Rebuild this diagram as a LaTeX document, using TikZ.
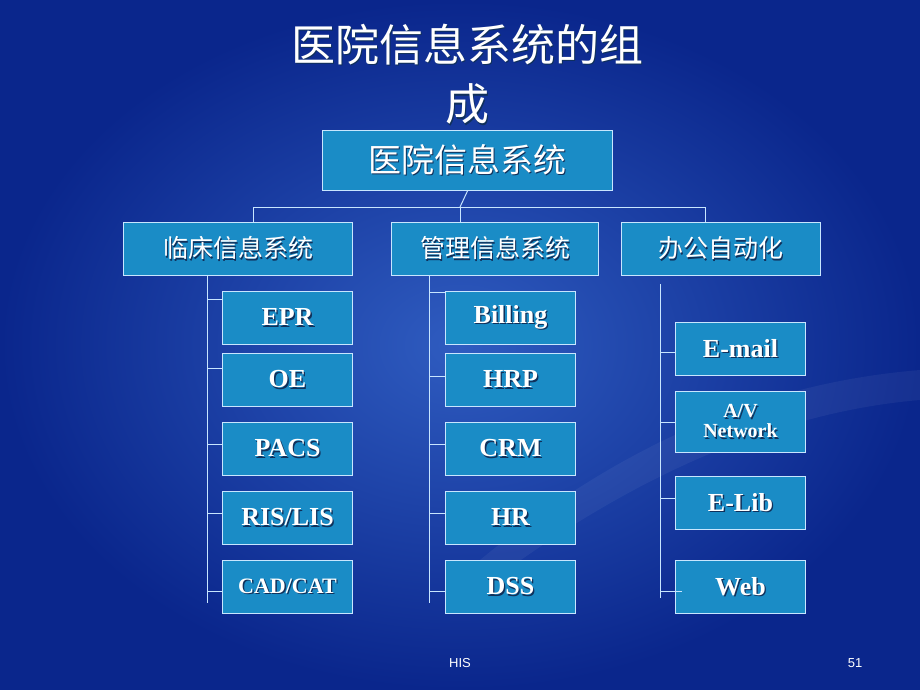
\documentclass[tikz,border=0pt]{standalone}
\usepackage{fontspec}
\setmainfont{Liberation Serif}
\newfontfamily\cjk{Noto Sans CJK SC}
\newfontfamily\sfhelv{Liberation Sans}
\definecolor{bgc}{HTML}{2F5CC0}
\definecolor{bge}{HTML}{0A268C}
\definecolor{boxf}{HTML}{1A8CC6}
\definecolor{boxd}{HTML}{C8E6FF}
\definecolor{shd}{HTML}{10305A}
\newcommand{\shtxt}[1]{\makebox[0pt][l]{\raisebox{-1.3pt}{\kern1.3pt\color{shd}#1}}#1}
\tikzset{
  bx/.style={draw=boxd, line width=1pt, fill=boxf, text=white, inner sep=0pt, anchor=north west},
  lt/.style={font=\bfseries\fontsize{26}{27}\selectfont, align=center},
  cn/.style={font=\cjk\fontsize{25}{27}\selectfont},
  ln/.style={draw=boxd, line width=1pt}
}
\begin{document}
\begin{tikzpicture}[x=1pt,y=-1pt]
\shade[inner color=bgc, outer color=bge] (0,0) rectangle (920,690);
\useasboundingbox (0,0) rectangle (920,690);
\fill[white, opacity=0.05] (480,560) .. controls (650,420) and (800,380) .. (920,370) -- (920,400) .. controls (800,410) and (650,460) .. (480,590) -- cycle;
% title
\node[text=white, font=\cjk\fontsize{44}{48}\selectfont] (t1) at (467,45) {\shtxt{医院信息系统的组}};
\node[text=white, font=\cjk\fontsize{44}{48}\selectfont] (t2) at (467,105) {\shtxt{成}};
% root
\node[bx, minimum width=290pt, minimum height=60pt, cn, font=\cjk\fontsize{33}{36}\selectfont] (root) at (322,130) {\shtxt{医院信息系统}};
\node[bx, minimum width=229pt, minimum height=53pt, cn] (c1) at (123,222) {\shtxt{临床信息系统}};
\node[bx, minimum width=207pt, minimum height=53pt, cn] (c2) at (391,222) {\shtxt{管理信息系统}};
\node[bx, minimum width=199pt, minimum height=53pt, cn] (c3) at (621,222) {\shtxt{办公自动化}};
\coordinate (j0) at (460,207);
\coordinate (jl) at (253,207);
\coordinate (jr) at (705,207);
\coordinate (jm) at (460,207);
\draw[ln] (root.south) -- (j0);
\draw[ln] (jl) -- (jr);
\draw[ln] (jl) -- (jl |- c1.north);
\draw[ln] (jm) -- (jm |- c2.north);
\draw[ln] (jr) -- (jr |- c3.north);
% clinic column
\foreach \n/\y/\t in {e1/291/EPR, e2/353/OE, e3/422/PACS, e4/491/RIS\slash LIS}
  \node[bx, minimum width=130pt, minimum height=53pt, lt] (\n) at (222,\y) {\shtxt{\t}};
\node[bx, minimum width=130pt, minimum height=53pt, lt, font=\bfseries\fontsize{22}{24}\selectfont] (e5) at (222,560) {\shtxt{CAD/CAT}};
\coordinate (v1t) at (207,275);
\coordinate (v1b) at (207,603);
\draw[ln] (v1t) -- (v1b);
\foreach \n/\y in {e1/299, e2/368, e3/444, e4/513, e5/591}
  \draw[ln] (207,\y) -- (\n.west |- 0,\y);
% management column
\foreach \n/\y/\t in {m1/291/Billing, m2/353/HRP, m3/422/CRM, m4/491/HR, m5/560/DSS}
  \node[bx, minimum width=130pt, minimum height=53pt, lt] (\n) at (445,\y) {\shtxt{\t}};
\coordinate (v2t) at (429,275);
\coordinate (v2b) at (429,603);
\draw[ln] (v2t) -- (v2b);
\foreach \n/\y in {m1/292, m2/376, m3/444, m4/513, m5/591}
  \draw[ln] (429,\y) -- (\n.west |- 0,\y);
% office column
\node[bx, minimum width=130pt, minimum height=53pt, lt] (o1) at (675,322) {\shtxt{E-mail}};
\node[bx, minimum width=130pt, minimum height=61pt, lt, font=\bfseries\fontsize{20}{20}\selectfont] (o2) at (675,391) {\shtxt{A/V}\\\shtxt{Network}};
\node[bx, minimum width=130pt, minimum height=53pt, lt] (o3) at (675,476) {\shtxt{E-Lib}};
\node[bx, minimum width=130pt, minimum height=53pt, lt] (o4) at (675,560) {\shtxt{Web}};
\coordinate (v3t) at (660,284);
\coordinate (v3b) at (660,598);
\draw[ln] (v3t) -- (v3b);
\foreach \n/\y in {o1/352, o2/422, o3/498}
  \draw[ln] (660,\y) -- (\n.west |- 0,\y);
\draw[ln] (660,591) -- (682,591);
% footer
\node[text=white, font=\sfhelv\fontsize{13}{14}\selectfont] (f1) at (460,663) {HIS};
\node[text=white, font=\sfhelv\fontsize{13}{14}\selectfont] (f2) at (855,663) {51};
\end{tikzpicture}
\end{document}
